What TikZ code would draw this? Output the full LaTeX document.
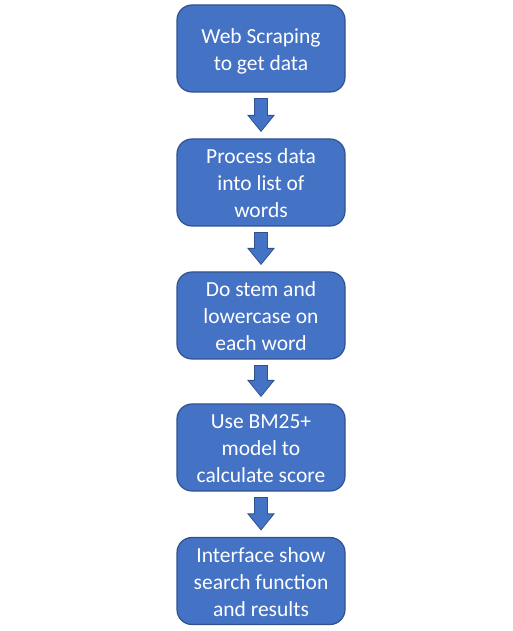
\documentclass[tikz,border=0pt]{standalone}
\usepackage{fontspec}
\setmainfont{Carlito}
\usetikzlibrary{calc}
\definecolor{boxfill}{HTML}{4472C4}
\definecolor{boxline}{HTML}{2F528F}
\tikzset{
  stepbox/.style={draw=boxline, line width=1.2pt, fill=boxfill, rounded corners=15pt,
    minimum width=168pt, minimum height=87pt, align=center,
    text=white, font=\fontsize{21.5}{27}\selectfont, inner sep=0pt},
  blockarr/.style={draw=boxline, line width=0.8pt, fill=boxfill}
}
\newcommand\boxtext[1]{\raisebox{-3pt}[\height][\depth]{\begin{tabular}{@{}c@{}}#1\end{tabular}}}
\newcommand\blockarrow[2]{%
  \path[blockarr] ($(#1.south)+(-6.5,-6)$) -- ($(#1.south)+(6.5,-6)$) -- ($(#2.north)+(6.5,23)$) -- ($(#2.north)+(13,23)$) -- ($(#2.north)+(0,7)$) -- ($(#2.north)+(-13,23)$) -- ($(#2.north)+(-6.5,23)$) -- cycle;}
\begin{document}
\begin{tikzpicture}[x=1pt,y=1pt]
\useasboundingbox (0,0) rectangle (513,631);
\node[stepbox] (n1) at (261,582.5) {\boxtext{Web Scraping\\to get data}};
\node[stepbox] (n2) at (261,448.5) {\boxtext{Process data\\into list of\\words}};
\node[stepbox] (n3) at (261,315.5) {\boxtext{Do stem and\\lowercase on\\each word}};
\node[stepbox] (n4) at (261,183.5) {\boxtext{Use BM25+\\model to\\calculate score}};
\node[stepbox] (n5) at (261,50) {\boxtext{Interface show\\search function\\and results}};
\blockarrow{n1}{n2}
\blockarrow{n2}{n3}
\blockarrow{n3}{n4}
\blockarrow{n4}{n5}
\end{tikzpicture}
\end{document}
